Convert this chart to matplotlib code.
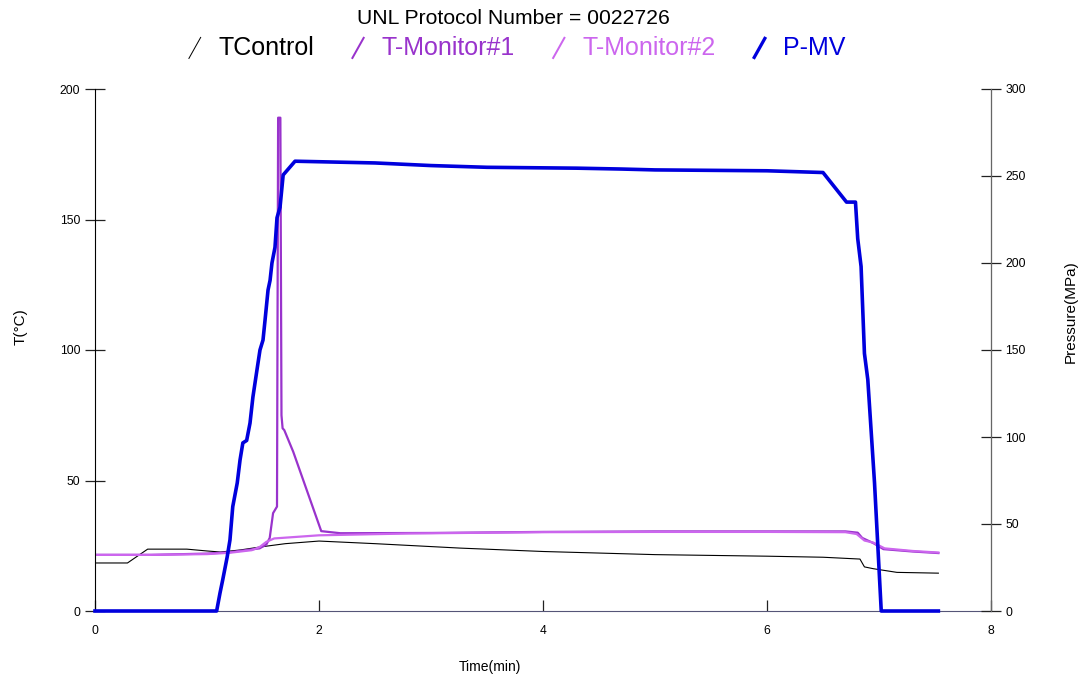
import matplotlib
matplotlib.use("Agg")
import matplotlib.pyplot as plt
from matplotlib.lines import Line2D
from matplotlib.legend_handler import HandlerBase

plt.rcParams['font.family'] = ['Liberation Sans', 'DejaVu Sans']

# ---------------- data ----------------
t_control = [0, 0.29, 0.47, 0.82, 1.0, 1.12, 1.3, 1.47, 1.7, 2.0, 2.5, 3.26, 4.0, 5.0,
             6.0, 6.5, 6.83, 6.87, 6.95, 7.16, 7.53]
T_control = [18.4, 18.4, 23.7, 23.7, 23.0, 22.6, 23.4, 24.5, 25.8, 26.8, 25.8, 24.1, 22.8, 21.6,
             21.0, 20.6, 19.9, 16.9, 16.2, 14.8, 14.5]

t_mon1 = [0, 0.5, 1.0, 1.2, 1.47, 1.53, 1.56, 1.59, 1.625, 1.635, 1.655, 1.665, 1.675,
          1.69, 1.77, 2.02, 2.19, 3.0, 4.0, 5.0, 6.0, 6.7, 6.81, 6.85, 6.95, 7.04, 7.3, 7.53]
T_mon1 = [21.5, 21.5, 22.0, 22.5, 24.0, 25.5, 28.0, 37.5, 40.0, 189.0, 189.0, 75.0, 70.0,
          69.3, 61.0, 30.6, 29.8, 29.9, 30.3, 30.5, 30.5, 30.5, 30.0, 28.0, 26.0, 23.7, 22.8, 22.2]

t_mon2 = [0, 0.5, 1.0, 1.2, 1.4, 1.47, 1.53, 1.6, 2.0, 2.8, 4.0, 5.0, 6.0, 6.7, 6.8,
          6.87, 6.95, 7.05, 7.3, 7.53]
T_mon2 = [21.5, 21.5, 21.8, 22.3, 23.3, 24.5, 26.5, 27.8, 29.0, 29.7, 30.2, 30.3, 30.3, 30.2, 29.5,
          27.0, 26.2, 24.0, 23.0, 22.4]

t_pmv = [0, 1.086, 1.116, 1.14, 1.18, 1.205, 1.23, 1.27, 1.295, 1.32, 1.354, 1.384, 1.41,
         1.446, 1.473, 1.5, 1.518, 1.545, 1.563, 1.58, 1.607, 1.625, 1.652, 1.68, 1.786,
         2.5, 3.0, 3.5, 4.3, 4.7, 5.0, 6.0, 6.5, 6.71, 6.79, 6.81, 6.84, 6.87, 6.90,
         6.96, 7.02, 7.53]
P_pmv = [0, 0, 10.3, 17.8, 31.0, 40.8, 60.0, 73.6, 86.8, 96.6, 98.0, 108.0, 123.0,
         138.5, 150.0, 155.7, 167.0, 184.5, 190.0, 200.0, 209.0, 226.0, 232.0, 250.6, 258.5,
         257.5, 256.0, 255.0, 254.5, 254.0, 253.5, 253.0, 252.0, 235.0, 235.0, 214.0, 198.0, 148.0, 133.0,
         73.6, 0, 0]

series_labels = ['TControl', 'T-Monitor#1', 'T-Monitor#2', 'P-MV']
series_colors = ['#000000', '#9933CC', '#CC66EE', '#0000DD']

x_ticks = [0, 2, 4, 6, 8]
yl_ticks = [0, 50, 100, 150, 200]
yr_ticks = [0, 50, 100, 150, 200, 250, 300]

title_text = 'UNL Protocol Number = 0022726'


class SlashHandler(HandlerBase):
    def create_artists(self, legend, orig_handle, xdescent, ydescent, width, height,
                       fontsize, trans):
        x0 = -xdescent + width * 0.15
        x1 = -xdescent + width * 0.85
        y0 = -ydescent - height * 0.2
        y1 = -ydescent + height * 1.05
        lw = orig_handle.get_linewidth()
        ln = Line2D([x0, x1], [y0, y1], color=orig_handle.get_color(),
                    lw=max(lw * 0.9, 0.7), solid_capstyle='butt')
        ln.set_transform(trans)
        return [ln]


fig = plt.figure(figsize=(10.86, 6.81), dpi=100)
ax = fig.add_axes([95 / 1086, 70 / 681, 896 / 1086, 522 / 681])
ax2 = ax.twinx()

l1, = ax.plot(t_control, T_control, color=series_colors[0], lw=0.8)
l2, = ax.plot(t_mon1, T_mon1, color=series_colors[1], lw=1.6)
l3, = ax.plot(t_mon2, T_mon2, color=series_colors[2], lw=1.6)
l4, = ax2.plot(t_pmv, P_pmv, color=series_colors[3], lw=2.6, clip_on=False)

ax.set_xlim(0, 8)
ax.set_ylim(0, 200)
ax2.set_ylim(0, 300)
ax.set_xticks(x_ticks)
ax.set_yticks(yl_ticks)
ax2.set_yticks(yr_ticks)

for a in (ax, ax2):
    a.spines['top'].set_visible(False)
ax.spines['left'].set_color('#000000')
ax.spines['bottom'].set_color('#555577')
ax2.spines['right'].set_color('#666666')
ax2.spines['left'].set_visible(False)
ax2.spines['bottom'].set_visible(False)

ax.tick_params(axis='x', direction='in', length=8, width=0.9, pad=10, labelsize=8.7,
               color='#222222')
ax.tick_params(axis='y', direction='inout', length=15, width=0.9, pad=3, labelsize=8.7,
               color='#222222')
ax2.tick_params(axis='y', direction='inout', length=15, width=0.9, pad=3, labelsize=8.7,
                color='#222222')

ax.set_xlabel('Time(min)', fontsize=10)
ax.xaxis.set_label_coords(0.441, -0.093)
ax.set_ylabel('T(°C)', fontsize=11)
ax.yaxis.set_label_coords(-0.075, 0.545)
ax2.set_ylabel('Pressure(MPa)', fontsize=11)
ax2.yaxis.set_label_coords(1.081, 0.573)

fig.text(0.473, 0.973, title_text, ha='center', va='center', fontsize=15.2)

leg = fig.legend([l1, l2, l3, l4], series_labels, loc='center',
                 bbox_to_anchor=(0.475, 0.929), ncol=4, frameon=False,
                 fontsize=18, handlelength=0.7, handleheight=0.7, handletextpad=0.6,
                 columnspacing=1.4, handler_map={Line2D: SlashHandler()})
for txt, c in zip(leg.get_texts(), series_colors):
    txt.set_color(c)

fig.savefig('out.png', dpi=100)
